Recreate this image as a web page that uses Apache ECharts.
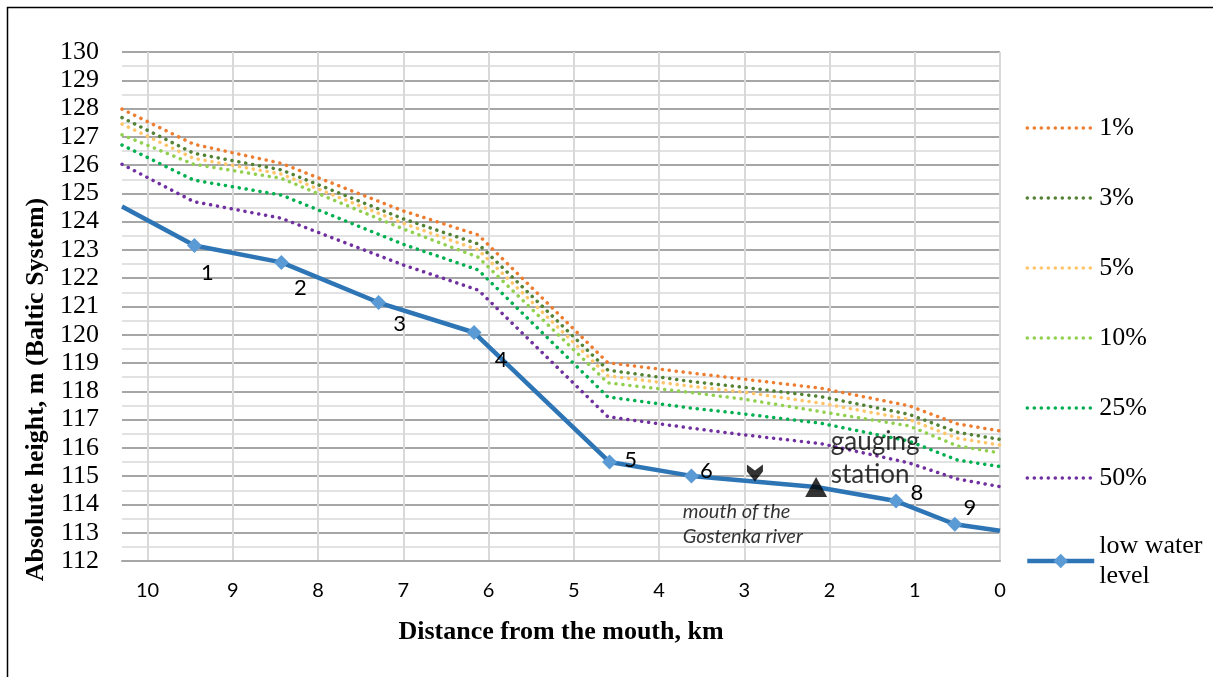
<!DOCTYPE html>
<html><head><meta charset="utf-8">
<script src="https://cdn.jsdelivr.net/npm/echarts@6/dist/echarts.min.js"></script>
<style>html,body{margin:0;padding:0;background:#fff}#c{width:1213px;height:677px}</style>
</head><body><div id="c"></div>
<script>
// ---- data ----
const floodNames = ['1%', '3%', '5%', '10%', '25%', '50%'];
const floodKm = [10.3, 9.46, 8.43, 7.0, 6.12, 4.6, 3.6, 3.0, 2.1, 1.07, 0.5, 0];
const flood1  = [127.98, 126.74, 126.06, 124.38, 123.53, 119.01, 118.64, 118.43, 118.11, 117.49, 116.85, 116.60];
const flood3  = [127.68, 126.42, 125.83, 124.10, 123.21, 118.75, 118.34, 118.14, 117.81, 117.19, 116.55, 116.30];
const flood5  = [127.45, 126.24, 125.68, 123.94, 123.00, 118.55, 118.17, 117.97, 117.58, 117.01, 116.34, 116.10];
const flood10 = [127.07, 126.03, 125.53, 123.74, 122.74, 118.30, 117.95, 117.72, 117.28, 116.78, 116.07, 115.82];
const flood25 = [126.71, 125.47, 124.94, 123.20, 122.29, 117.80, 117.40, 117.20, 116.87, 116.24, 115.57, 115.34];
const flood50 = [126.03, 124.71, 124.12, 122.47, 121.58, 117.10, 116.69, 116.46, 116.15, 115.47, 114.90, 114.63];
const floodValues = [flood1, flood3, flood5, flood10, flood25, flood50];

const lowName = 'low water level';
const lowKm = [10.3, 9.45, 8.43, 7.29, 6.17, 4.58, 3.62, 2.157, 1.22, 0.53, 0];
const lowH  = [124.54, 123.16, 122.56, 121.14, 120.08, 115.50, 115.01, 114.62, 114.12, 113.30, 113.07];
const pointLabels = ['', '1', '2', '3', '4', '5', '6', '', '8', '9', ''];

const gaugingStation = { km: 2.157, h: 114.62 };
const riverMouth = { km: 2.875, h: 115.11 };
const notes = [
  { text: 'gauging\nstation', km: 1.985, h: 115.63 },
  { text: 'mouth of the\nGostenka river', km: 3.722, h: 113.30 }
];

// ---- styles ----
const floodColors = ['#ED7D31', '#548235', '#FFC56B', '#92D050', '#00B050', '#7030A0'];
const labelOffsets = [null, [13, 27], [19, 26], [21, 21], [27, 27], [21, -2], [15, -5], null, [21, -8], [15, -16], null];
const noteStyles = [
  { fontFamily: 'Lato', fontSize: 26, lineHeight: 33, fontStyle: 'normal' },
  { fontFamily: 'Lato', fontSize: 20, lineHeight: 25.5, fontStyle: 'italic' }
];

const serif = 'Liberation Serif';
const series = floodNames.map((n, si) => ({
  type: 'line', name: n,
  data: floodKm.map((k, i) => [k, floodValues[si][i]]),
  symbol: 'none',
  lineStyle: { color: floodColors[si], width: 3.5, type: [0.1, 6.9], cap: 'round' },
  itemStyle: { color: floodColors[si] },
  z: 3
}));

series.push({
  type: 'line', name: lowName,
  symbol: 'diamond', symbolSize: 15, showAllSymbol: true,
  lineStyle: { color: '#2E75B6', width: 4.5 },
  itemStyle: { color: '#5B9BD5' },
  z: 5,
  data: lowKm.map((k, i) => {
    const item = { value: [k, lowH[i]] };
    if (i === 0 || i === lowKm.length - 1 || !pointLabels[i]) item.symbol = 'none';
    if (pointLabels[i]) {
      item.label = {
        show: true, formatter: pointLabels[i], position: 'inside', offset: labelOffsets[i],
        fontFamily: 'Lato', fontSize: 22, color: '#000'
      };
    }
    return item;
  })
});

series.push({
  type: 'scatter', name: 'markers', z: 10, silent: true,
  data: [
    { value: [gaugingStation.km, gaugingStation.h], symbol: 'triangle', symbolSize: [22, 20],
      itemStyle: { color: '#000' } },
    { value: [riverMouth.km, riverMouth.h], symbol: 'path://M0,0 L8,6 L16,0 L16,7 L8,17 L0,7 Z', symbolSize: [16, 17],
      itemStyle: { color: '#000' } }
  ]
});

series.push({
  type: 'scatter', name: 'notes', z: 11, silent: true, symbolSize: 0,
  data: notes.map((n, i) => ({
    value: [n.km, n.h],
    label: Object.assign({ show: true, formatter: n.text, position: 'right', distance: 0, color: '#000' }, noteStyles[i])
  }))
});

const chart = echarts.init(document.getElementById('c'), null, { renderer: 'canvas' });
chart.setOption({
  animation: false,
  backgroundColor: '#fff',
  grid: { left: 122, right: 213, top: 52, bottom: 116 },
  xAxis: {
    type: 'value', inverse: true, min: 0, max: 10.3, interval: 1,
    name: 'Distance from the mouth, km', nameLocation: 'middle', nameGap: 58,
    nameTextStyle: { fontFamily: serif, fontWeight: 'bold', fontSize: 26, color: '#000' },
    axisLine: { show: true, lineStyle: { color: '#A6A6A6', width: 2 } },
    axisTick: { show: false },
    axisLabel: { fontFamily: 'Lato', fontSize: 20, color: '#000', margin: 20, showMaxLabel: false,
      formatter: v => Number.isInteger(v) ? String(v) : '' },
    splitLine: { show: true, showMaxLine: false, lineStyle: { color: '#D9D9D9', width: 2 } }
  },
  yAxis: {
    type: 'value', min: 112, max: 130, interval: 1,
    name: 'Absolute height, m (Baltic System)', nameLocation: 'middle', nameGap: 71,
    nameTextStyle: { fontFamily: serif, fontWeight: 'bold', fontSize: 26, color: '#000', padding: [0, 166, 0, 0] },
    axisLine: { show: false }, axisTick: { show: false },
    axisLabel: { fontFamily: serif, fontSize: 26, color: '#000', margin: 23 },
    splitLine: { show: true, lineStyle: { color: '#A6A6A6', width: 2 } },
    minorTick: { show: false, splitNumber: 2 },
    minorSplitLine: { show: true, lineStyle: { color: '#D9D9D9', width: 1.5 } }
  },
  legend: {
    orient: 'vertical', left: 1020, top: 108, itemWidth: 67, itemHeight: 18, itemGap: 40,
    selectedMode: false,
    textStyle: { fontFamily: serif, fontSize: 26, color: '#000', lineHeight: 30 },
    data: floodNames.map(n => ({ name: n, itemStyle: { opacity: 0 }, lineStyle: { width: 3.5 } }))
      .concat([{ name: lowName, textStyle: { height: 30 }, lineStyle: { width: 4.5 } }]),
    formatter: n => n === lowName ? 'low water\nlevel' : n
  },
  graphic: [{
    type: 'rect', silent: true,
    shape: { x: 7.5, y: 7.5, width: 1300, height: 800 },
    style: { fill: 'transparent', stroke: '#000', lineWidth: 1.5 }
  }],
  series: series
});
</script>
</body></html>
